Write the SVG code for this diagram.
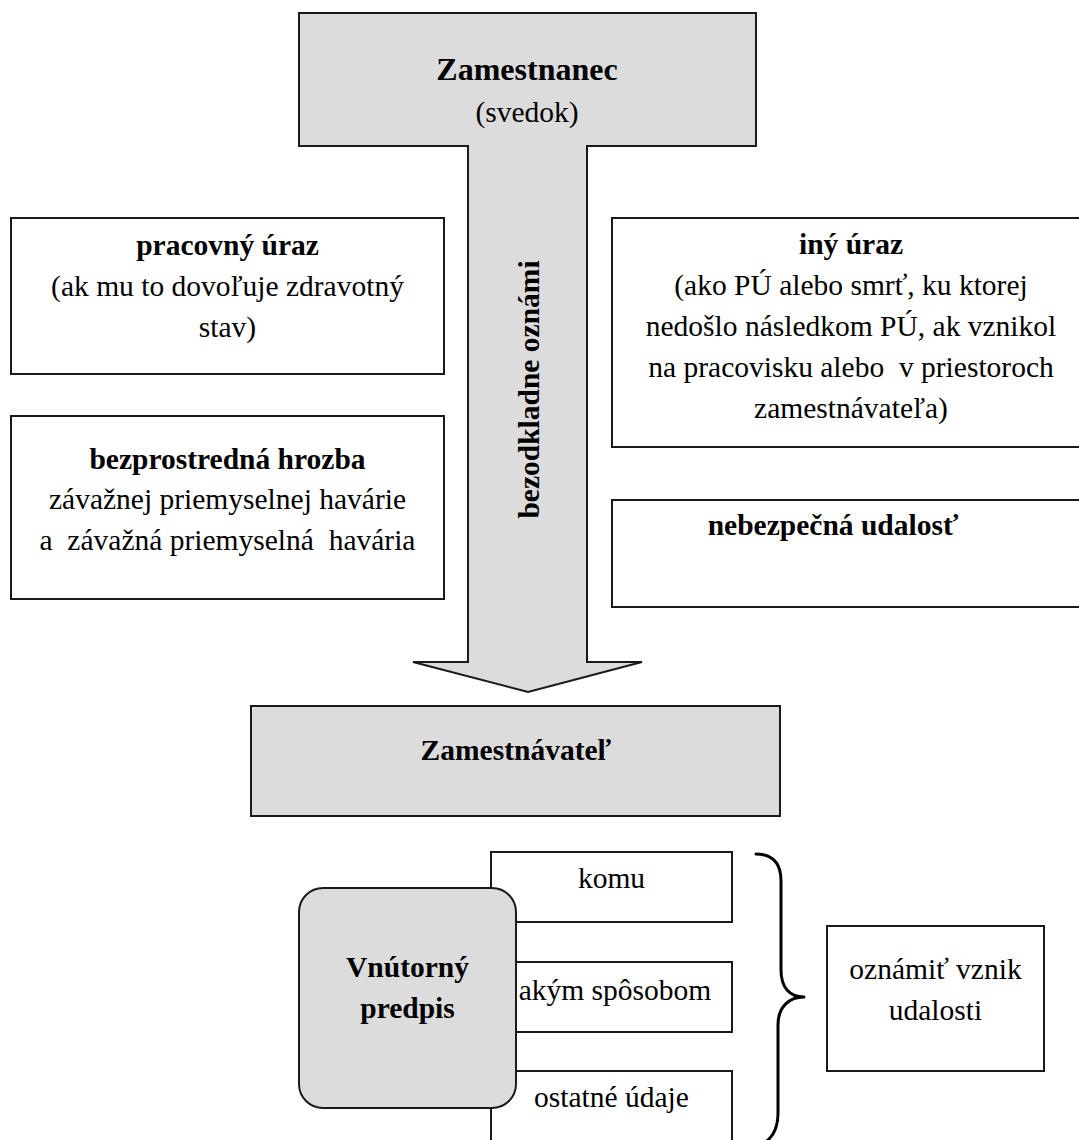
<svg xmlns="http://www.w3.org/2000/svg" width="1079" height="1140" viewBox="0 0 1079 1140">
<style>
  .box { fill: #ffffff; stroke: #1a1a1a; stroke-width: 2; }
  .gbox { fill: #dcdcdc; stroke: #1a1a1a; stroke-width: 2; }
  text { font-family: 'Liberation Serif', 'Times New Roman', serif; font-size: 29.5px; fill: #000; text-anchor: middle; }
  .b { font-weight: bold; }
  .line { fill: none; stroke: #000; stroke-width: 3; stroke-linecap: round; stroke-linejoin: round; }
</style>
<rect width="1079" height="1140" fill="#ffffff"/>

<g id="connectors">
  <path id="arrow-main" class="gbox" d="M299,13 L756,13 L756,146 L587,146 L587,662 L642,662 L528,692 L413,662 L468,662 L468,146 L299,146 Z"/>
  <path id="brace" class="line" d="M756,854 C773,854 781,863 781,881 L781,970 C781,988 790,997 804,997 C790,997 778,1006 778,1025 L778,1113 C778,1129 772,1138 764,1143"/>
</g>

<g id="node-zamestnanec">
  <text class="b" x="527" y="80" style="font-size:32px">Zamestnanec</text>
  <text x="527" y="122">(svedok)</text>
</g>

<g id="label-bezodkladne">
  <text class="b" transform="translate(539,389.5) rotate(-90)">bezodkladne oznámi</text>
</g>

<g id="node-pracovny-uraz">
  <rect class="box" x="11" y="218" width="433" height="156"/>
  <text class="b" x="227.5" y="255">pracovný úraz</text>
  <text x="227.5" y="296">(ak mu to dovoľuje zdravotný</text>
  <text x="227.5" y="337">stav)</text>
</g>

<g id="node-bezprostredna-hrozba">
  <rect class="box" x="11" y="416" width="433" height="183"/>
  <text class="b" x="227.5" y="469">bezprostredná hrozba</text>
  <text x="227.5" y="509">závažnej priemyselnej havárie</text>
  <text x="227.5" y="550" xml:space="preserve">a  závažná priemyselná  havária</text>
</g>

<g id="node-iny-uraz">
  <rect class="box" x="612" y="218" width="480" height="229"/>
  <text class="b" x="851" y="254">iný úraz</text>
  <text x="851" y="295">(ako PÚ alebo smrť, ku ktorej</text>
  <text x="851" y="336">nedošlo následkom PÚ, ak vznikol</text>
  <text x="851" y="377" xml:space="preserve">na pracovisku alebo  v priestoroch</text>
  <text x="851" y="418">zamestnávateľa)</text>
</g>

<g id="node-nebezpecna-udalost">
  <rect class="box" x="612" y="500" width="480" height="107"/>
  <text class="b" x="833" y="535">nebezpečná udalosť</text>
</g>

<g id="node-zamestnavatel">
  <rect class="gbox" x="251" y="706" width="529" height="110"/>
  <text class="b" x="516" y="760">Zamestnávateľ</text>
</g>

<g id="node-komu">
  <rect class="box" x="491" y="852" width="241" height="70"/>
  <text x="611.5" y="888">komu</text>
</g>

<g id="node-akym-sposobom">
  <rect class="box" x="491" y="962" width="241" height="70"/>
  <text x="615" y="1000">akým spôsobom</text>
</g>

<g id="node-ostatne-udaje">
  <rect class="box" x="491" y="1071" width="241" height="80"/>
  <text x="611.5" y="1107">ostatné údaje</text>
</g>

<g id="node-vnutorny-predpis">
  <rect class="gbox" x="299" y="888" width="217" height="220" rx="24" ry="24"/>
  <text class="b" x="407.5" y="977">Vnútorný</text>
  <text class="b" x="407.5" y="1018">predpis</text>
</g>

<g id="node-oznamit">
  <rect class="box" x="827" y="926" width="217" height="145"/>
  <text x="935.5" y="979">oznámiť vznik</text>
  <text x="935.5" y="1020">udalosti</text>
</g>
</svg>
